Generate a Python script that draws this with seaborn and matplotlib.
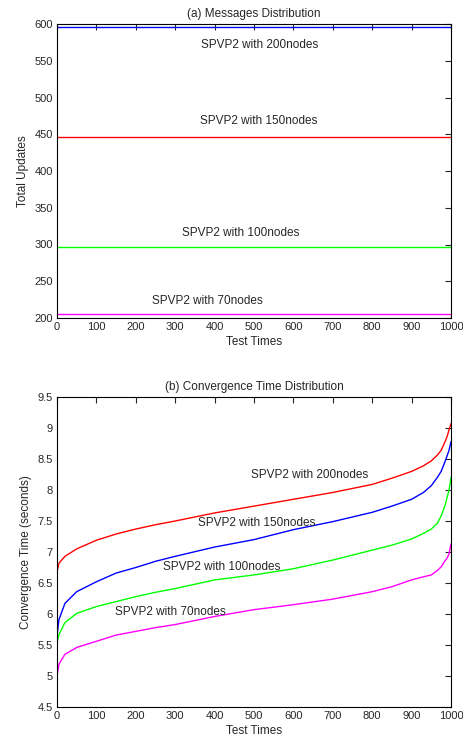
import matplotlib
matplotlib.use("Agg")
import matplotlib.pyplot as plt
import seaborn as sns
import pandas as pd

sns.set_style("white")
plt.rcParams['font.family'] = ['Liberation Sans', 'DejaVu Sans']

# (a) Messages distribution: total updates (constant over test times)
msg_x = [0, 1000]
msg_200 = [596, 596]
msg_150 = [446, 446]
msg_100 = [297, 297]
msg_70 = [205.5, 205.5]

# (b) Convergence time distribution (seconds)
conv_x = [0, 5, 20, 50, 100, 150, 200, 250, 300, 400, 500, 600, 700, 800, 850, 900, 930, 950, 965, 975, 985, 990, 995, 1000]
conv_200 = [6.68, 6.82, 6.93, 7.05, 7.19, 7.29, 7.37, 7.44, 7.50, 7.63, 7.74, 7.85, 7.96, 8.09, 8.19, 8.30, 8.39, 8.47, 8.56, 8.64, 8.78, 8.86, 8.97, 9.07]
conv_150 = [5.65, 5.91, 6.17, 6.36, 6.52, 6.66, 6.75, 6.85, 6.93, 7.08, 7.20, 7.36, 7.49, 7.64, 7.74, 7.85, 7.96, 8.07, 8.20, 8.30, 8.46, 8.55, 8.64, 8.78]
conv_100 = [5.53, 5.67, 5.86, 6.01, 6.12, 6.20, 6.28, 6.35, 6.41, 6.55, 6.63, 6.73, 6.87, 7.03, 7.11, 7.21, 7.30, 7.37, 7.46, 7.58, 7.75, 7.88, 8.00, 8.20]
conv_70 = [5.00, 5.19, 5.35, 5.46, 5.56, 5.66, 5.72, 5.78, 5.83, 5.96, 6.07, 6.15, 6.24, 6.36, 6.44, 6.55, 6.60, 6.63, 6.70, 6.76, 6.86, 6.90, 6.97, 7.13]

labels = ["SPVP2 with 200nodes", "SPVP2 with 150nodes", "SPVP2 with 100nodes", "SPVP2 with 70nodes"]
colors = ["#0000ff", "#ff0000", "#00ff00", "#ff00ff"]
colors_b = ["#ff0000", "#0000ff", "#00ff00", "#ff00ff"]

fig = plt.figure(figsize=(4.64, 7.40), dpi=100)
W, H = 464, 740
ax1 = fig.add_axes([57 / W, 1 - 318 / H, (451 - 57) / W, (318 - 24) / H])
ax2 = fig.add_axes([57 / W, 1 - 707 / H, (451 - 57) / W, (707 - 397) / H])

fs = 8.5
tfs = 8

for ys, c in zip([msg_200, msg_150, msg_100, msg_70], colors):
    sns.lineplot(x=msg_x, y=ys, ax=ax1, color=c, linewidth=1.0)

for ys, c in zip([conv_200, conv_150, conv_100, conv_70], colors_b):
    sns.lineplot(x=conv_x, y=ys, ax=ax2, color=c, linewidth=1.0)

# annotations
top_pos = [(515, 571), (513, 468), (465, 316), (381, 223)]
for (x, y), t in zip(top_pos, labels):
    ax1.text(x, y, t, ha="center", va="center", fontsize=fs)
bot_pos = [(642, 8.24), (507, 7.47), (419, 6.76), (289, 6.03)]
for (x, y), t in zip(bot_pos, labels):
    ax2.text(x, y, t, ha="center", va="center", fontsize=fs)

ax1.set_xlim(0, 1000)
ax1.set_ylim(200, 600)
ax1.set_xticks(range(0, 1001, 100))
ax1.set_yticks(range(200, 601, 50))
ax1.set_xlabel("Test Times", fontsize=fs, labelpad=2.5)
ax1.set_ylabel("Total Updates", fontsize=fs, labelpad=4)
ax1.set_title("(a) Messages Distribution", fontsize=fs, pad=5)

ax2.set_xlim(0, 1000)
ax2.set_ylim(4.5, 9.5)
ax2.set_xticks(range(0, 1001, 100))
ax2.set_yticks([4.5, 5, 5.5, 6, 6.5, 7, 7.5, 8, 8.5, 9, 9.5])
ax2.set_yticklabels(["4.5", "5", "5.5", "6", "6.5", "7", "7.5", "8", "8.5", "9", "9.5"])
ax2.set_xlabel("Test Times", fontsize=fs, labelpad=2.5)
ax2.set_ylabel("Convergence Time (seconds)", fontsize=fs, labelpad=4)
ax2.set_title("(b) Convergence Time Distribution", fontsize=fs, pad=5)

for ax in (ax1, ax2):
    ax.tick_params(direction="in", length=4, width=0.8, labelsize=tfs, top=True, right=True, pad=3)
    for s in ax.spines.values():
        s.set_visible(True)
        s.set_color("black")
        s.set_linewidth(0.8)

fig.savefig("out.png", dpi=100, facecolor="white")
